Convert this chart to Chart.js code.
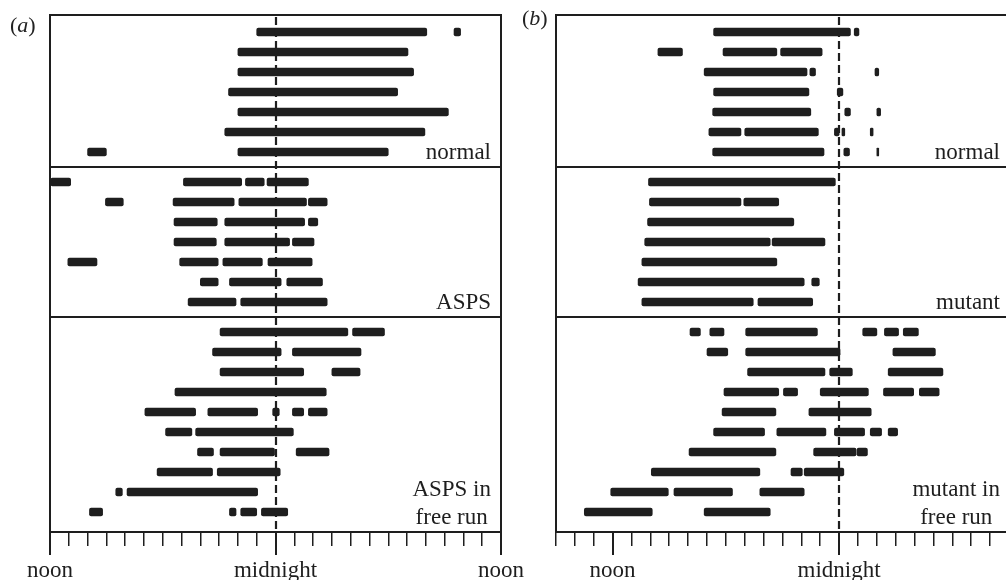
<!DOCTYPE html>
<html>
<head>
<meta charset="utf-8">
<script src="https://cdn.jsdelivr.net/npm/chart.js@4.4.0/dist/chart.umd.min.js"></script>
<style>
  html, body { margin: 0; padding: 0; background: #fff; overflow: hidden; }
  #wrap { position: relative; width: 1006px; height: 580px; }
  canvas { position: absolute; top: 0; }
  .tag { position: absolute; font: 22px/22px "Liberation Serif", serif; color: #222; }
</style>
</head>
<body>
<div id="wrap">
  <canvas id="chartA" width="535" height="580" style="left:0px"></canvas>
  <canvas id="chartB" width="500" height="580" style="left:520px"></canvas>
  <div class="tag" style="left:10px; top:14px">(<i>a</i>)</div>
  <div class="tag" style="left:522px; top:7px">(<i>b</i>)</div>
</div>
<script>
// hours after noon: 0 = noon, 12 = midnight, 24 = next noon
const tickHours = [0, 12, 24];
const tickNames = ['noon', 'midnight', 'noon'];

// panel (a) - activity bouts per day, one list of [start, end] per row
const normalA = [
  [[11.0, 20.05], [21.5, 21.85]],
  [[10.0, 19.05]],
  [[10.0, 19.35]],
  [[9.5, 18.5]],
  [[10.0, 21.2]],
  [[9.3, 19.95]],
  [[2.0, 3.0], [10.0, 18.0]]
];
const aspsA = [
  [[0.0, 1.1], [7.1, 10.2], [10.4, 11.4], [11.55, 13.75]],
  [[2.95, 3.9], [6.55, 9.8], [10.05, 13.65], [13.75, 14.75]],
  [[6.6, 8.9], [9.3, 13.55], [13.75, 14.25]],
  [[6.6, 8.85], [9.3, 12.75], [12.9, 14.05]],
  [[0.95, 2.5], [6.9, 8.95], [9.2, 11.3], [11.6, 13.95]],
  [[8.0, 8.95], [9.55, 12.3], [12.6, 14.5]],
  [[7.35, 9.9], [10.15, 14.75]]
];
const freeRunA = [
  [[9.05, 15.85], [16.1, 17.8]],
  [[8.65, 12.3], [12.9, 16.55]],
  [[9.05, 13.5], [15.0, 16.5]],
  [[6.65, 14.7]],
  [[5.05, 7.75], [8.4, 11.05], [11.85, 12.2], [12.9, 13.5], [13.75, 14.75]],
  [[6.15, 7.55], [7.75, 12.95]],
  [[7.85, 8.7], [9.05, 11.95], [13.1, 14.85]],
  [[5.7, 8.65], [8.9, 12.25]],
  [[3.5, 3.85], [4.1, 11.05]],
  [[2.1, 2.8], [9.55, 9.9], [10.15, 11.0], [11.25, 12.65]]
];
const labelsA = [['normal'], ['ASPS'], ['ASPS in', 'free run']];

// panel (b)
const normalB = [
  [[5.35, 12.6], [12.8, 13.05]],
  [[2.4, 3.7], [5.85, 8.7], [8.9, 11.1]],
  [[4.85, 10.3], [10.45, 10.75], [13.9, 14.1]],
  [[5.35, 10.4], [11.9, 12.2]],
  [[5.3, 10.5], [12.3, 12.6], [14.0, 14.2]],
  [[5.1, 6.8], [7.0, 10.9], [11.75, 12.0], [12.15, 12.3], [13.65, 13.8]],
  [[5.3, 11.2], [12.25, 12.55], [14.0, 14.1]]
];
const mutantB = [
  [[1.9, 11.8]],
  [[1.95, 6.8], [6.95, 8.8]],
  [[1.85, 9.6]],
  [[1.7, 8.35], [8.45, 11.25]],
  [[1.55, 8.7]],
  [[1.35, 10.15], [10.55, 10.95]],
  [[1.55, 7.45], [7.7, 10.6]]
];
const freeRunB = [
  [[4.1, 4.65], [5.15, 5.9], [7.05, 10.85], [13.25, 14.0], [14.4, 15.15], [15.4, 16.2]],
  [[5.0, 6.1], [7.05, 12.05], [14.85, 17.1]],
  [[7.15, 11.25], [11.5, 12.7], [14.6, 17.5]],
  [[5.9, 8.8], [9.05, 9.8], [11.0, 13.55], [14.35, 15.95], [16.25, 17.3]],
  [[5.8, 8.65], [10.4, 13.7]],
  [[5.35, 8.05], [8.7, 11.3], [11.75, 13.35], [13.65, 14.25], [14.6, 15.1]],
  [[4.05, 8.65], [10.65, 12.9], [12.95, 13.5]],
  [[2.05, 7.8], [9.45, 10.05], [10.15, 12.25]],
  [[-0.1, 2.95], [3.25, 6.35], [7.8, 10.15]],
  [[-1.5, 2.1], [4.85, 8.35]]
];
const labelsB = [['normal'], ['mutant'], ['mutant in', 'free run']];

const SECTION_GAP = 0.5;
const serif = '"Liberation Serif", "Times New Roman", serif';
const ink = '#1e1e1e';

// row positions on the y scale, with a small gap between sections
function layoutRows(sections) {
  const rows = [];
  let n = 0;
  sections.forEach((sec, s) => {
    sec.forEach(bouts => {
      rows.push({ pos: n + s * SECTION_GAP, bouts: bouts, section: s });
      n++;
    });
  });
  return rows;
}

const actogram = {
  id: 'actogram',
  afterDraw(chart, args, opts) {
    const ctx = chart.ctx;
    const a = chart.chartArea;
    const xs = chart.scales.x, ys = chart.scales.y;
    const rows = opts.rows;
    ctx.save();
    ctx.strokeStyle = ink;
    ctx.lineWidth = 2;
    ctx.strokeRect(a.left, a.top, a.right - a.left, a.bottom - a.top);

    // section dividers and section bottoms
    const bottoms = [];
    for (let i = 1; i < rows.length; i++) {
      if (rows[i].section !== rows[i - 1].section) {
        const y = Math.round(ys.getPixelForValue((rows[i].pos + rows[i - 1].pos) / 2));
        ctx.beginPath();
        ctx.moveTo(a.left, y);
        ctx.lineTo(a.right, y);
        ctx.stroke();
        bottoms.push(y);
      }
    }
    bottoms.push(a.bottom);

    // long ticks at noon / midnight
    ctx.lineWidth = 2;
    tickHours.forEach(h => {
      if (h < xs.min || h > xs.max) return;
      const x = Math.round(xs.getPixelForValue(h));
      ctx.beginPath();
      ctx.moveTo(x, a.bottom);
      ctx.lineTo(x, a.bottom + 23);
      ctx.stroke();
    });

    // dashed midnight line
    const mx = Math.round(xs.getPixelForValue(12));
    ctx.setLineDash([8, 4]);
    ctx.lineWidth = 2.2;
    ctx.beginPath();
    ctx.moveTo(mx, a.top + 2);
    ctx.lineTo(mx, a.bottom);
    ctx.stroke();
    ctx.setLineDash([]);

    // section names
    ctx.fillStyle = ink;
    ctx.font = '23px ' + serif;
    ctx.textBaseline = 'alphabetic';
    opts.labels.forEach((lines, s) => {
      const w = Math.max(...lines.map(t => ctx.measureText(t).width));
      const cx = opts.labelRight - w / 2;
      ctx.textAlign = 'center';
      lines.forEach((t, k) => {
        const base = bottoms[s] - 8 - (lines.length - 1 - k) * 28;
        ctx.fillText(t, cx, base);
      });
    });
    ctx.restore();
  }
};

function makeChart(id, sections, labels, xmin, xmax, padLeft, padRight, labelRight) {
  const rows = layoutRows(sections);
  const bars = [];
  rows.forEach(r => r.bouts.forEach(b => bars.push({ x: b, y: r.pos })));
  const last = rows[rows.length - 1].pos;
  const hours = [];
  for (let h = Math.ceil(xmin); h <= xmax; h++) hours.push(h);

  return new Chart(document.getElementById(id).getContext('2d'), {
    type: 'bar',
    data: {
      datasets: [{
        data: bars,
        backgroundColor: ink,
        borderWidth: 0,
        borderRadius: 2,
        borderSkipped: false,
        barThickness: 8,
        grouped: false
      }]
    },
    options: {
      responsive: false,
      animation: false,
      indexAxis: 'y',
      layout: { padding: { left: padLeft, right: padRight, top: 15, bottom: 0 } },
      scales: {
        x: {
          type: 'linear',
          position: 'bottom',
          min: xmin,
          max: xmax,
          offset: false,
          afterFit: s => { s.height = 48; },
          afterBuildTicks: s => { s.ticks = hours.map(v => ({ value: v })); },
          border: { display: false },
          grid: { drawOnChartArea: false, drawTicks: true, tickLength: 14, color: ink, lineWidth: 1.5 },
          ticks: {
            autoSkip: false,
            maxRotation: 0,
            padding: 11,
            color: ink,
            font: { family: serif, size: 23 },
            callback: v => {
              const i = tickHours.indexOf(v);
              return i >= 0 ? tickNames[i] : '';
            }
          }
        },
        y: {
          type: 'linear',
          display: false,
          reverse: true,
          offset: false,
          min: -0.85,
          max: last + 1
        }
      },
      plugins: {
        legend: { display: false },
        tooltip: { enabled: false },
        actogram: { rows: rows, labels: labels, labelRight: labelRight }
      }
    },
    plugins: [actogram]
  });
}

makeChart('chartA', [normalA, aspsA, freeRunA], labelsA, 0, 24, 50, 24, 491);
makeChart('chartB', [normalB, mutantB, freeRunB], labelsB, -3, 21.1, 36, 3, 480);
</script>
</body>
</html>
